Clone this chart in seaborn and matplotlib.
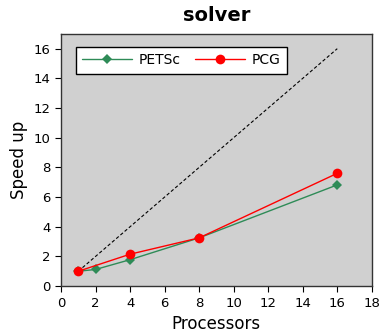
import matplotlib
matplotlib.use('Agg')
import matplotlib.pyplot as plt
import seaborn as sns
import pandas as pd

# --- data ---
petsc_procs = [1, 2, 4, 8, 16]
petsc_speedup = [1.0, 1.12, 1.78, 3.25, 6.82]
pcg_procs = [1, 4, 8, 16]
pcg_speedup = [1.0, 2.15, 3.25, 7.6]
ideal_procs = [1, 16]
ideal_speedup = [1, 16]

sns.set_style('ticks')
plt.rcParams['font.family'] = ['DejaVu Sans']
plt.rcParams['text.color'] = 'black'
plt.rcParams['axes.labelcolor'] = 'black'
plt.rcParams['xtick.color'] = 'black'
plt.rcParams['ytick.color'] = 'black'

fig = plt.figure(figsize=(3.79, 3.35), dpi=100)
ax = fig.add_axes([0.161, 0.146, 0.82, 0.753])
ax.set_facecolor('#d0d0d0')

df_petsc = pd.DataFrame({'Processors': petsc_procs, 'Speed up': petsc_speedup})
df_pcg = pd.DataFrame({'Processors': pcg_procs, 'Speed up': pcg_speedup})
df_ideal = pd.DataFrame({'Processors': ideal_procs, 'Speed up': ideal_speedup})

sns.lineplot(data=df_ideal, x='Processors', y='Speed up', ax=ax,
             color='black', linestyle=(0, (3, 2)), linewidth=0.8)
sns.lineplot(data=df_petsc, x='Processors', y='Speed up', ax=ax,
             color='#2e8b57', marker='D', markersize=5, markeredgewidth=0,
             linewidth=1, label='PETSc')
sns.lineplot(data=df_pcg, x='Processors', y='Speed up', ax=ax,
             color='red', marker='o', markersize=7, markeredgewidth=0,
             linewidth=1, label='PCG')

ax.set_xlim(0, 18)
ax.set_ylim(0, 17)
ax.set_xticks(range(0, 19, 2))
ax.set_yticks(range(0, 17, 2))
ax.tick_params(direction='out', length=4, labelsize=9.5)
for s in ax.spines.values():
    s.set_color('#333333')
    s.set_linewidth(1)

ax.set_xlabel('Processors', fontsize=12)
ax.set_ylabel('Speed up', fontsize=12)
ax.set_title('solver', fontsize=14, fontweight='bold', pad=9)

leg = ax.legend(loc='upper left', ncol=2, frameon=True, fancybox=False,
                fontsize=10, bbox_to_anchor=(0.025, 0.975), borderpad=0.45,
                handlelength=3.6, handletextpad=0.5, columnspacing=1.0)
leg.get_frame().set_edgecolor('black')
leg.get_frame().set_facecolor('white')
leg.get_frame().set_alpha(1)

fig.savefig('out.png', dpi=100)
